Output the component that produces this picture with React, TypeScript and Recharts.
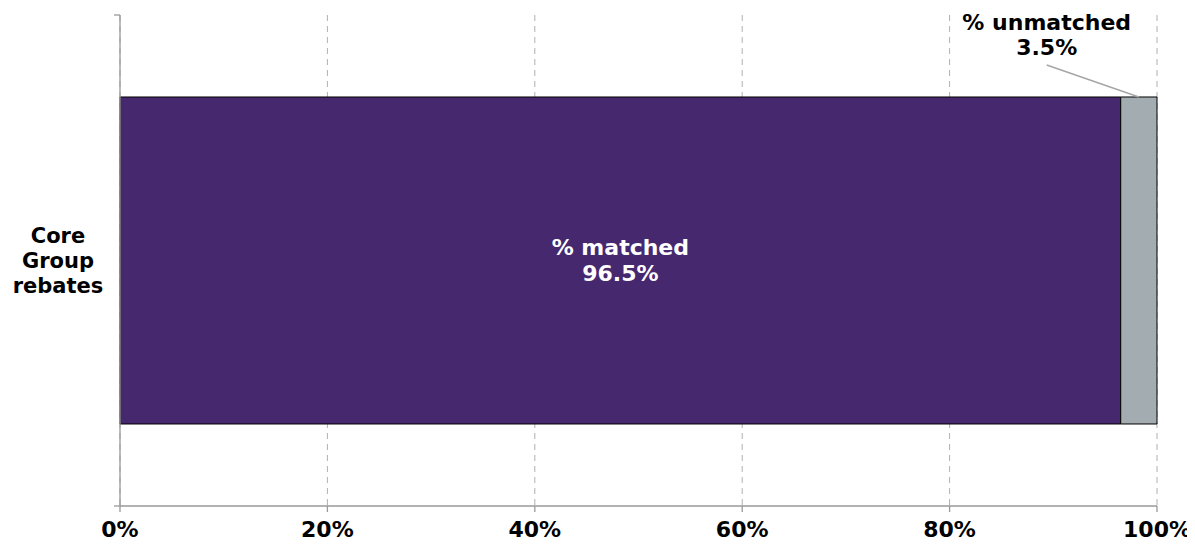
import { BarChart, Bar, XAxis, YAxis, CartesianGrid, LabelList, usePlotArea } from 'recharts';

const categories = ['Core Group rebates'];
const matched = [96.5];
const unmatched = [3.5];
const xTicks = [0, 20, 40, 60, 80, 100];

const data = categories.map((name, i) => ({ name, matched: matched[i], unmatched: unmatched[i] }));

const FONT = '"DejaVu Sans", Verdana, sans-serif';

function CategoryTick(props: any) {
  const { x, y, payload } = props;
  const words = String(payload.value).split(' ');
  const lineH = 25;
  const start = y - ((words.length - 1) * lineH) / 2;
  return (
    <text x={x - 54} textAnchor="middle" fontFamily={FONT} fontWeight="bold" fontSize={21} fill="#000">
      {words.map((w, i) => (
        <tspan key={i} x={x - 54} y={start + i * lineH} dy="0.35em">{w}</tspan>
      ))}
    </text>
  );
}

// Excel-style edge ticks on the category axis
function EdgeTicks() {
  const area = usePlotArea();
  if (!area) return null;
  const { x, y, height } = area;
  return (
    <g stroke="#999" strokeWidth={1.3}>
      <line x1={x - 6} y1={y} x2={x} y2={y} />
      <line x1={x - 6} y1={y + height} x2={x} y2={y + height} />
    </g>
  );
}

function MatchedLabel(props: any) {
  const { x, y, width, height, value } = props;
  const cx = x + width / 2;
  const cy = y + height / 2;
  return (
    <text textAnchor="middle" fontFamily={FONT} fontWeight="bold" fontSize={22} fill="#fff">
      <tspan x={cx} y={cy - 13} dy="0.35em">% matched</tspan>
      <tspan x={cx} y={cy + 13} dy="0.35em">{value}%</tspan>
    </text>
  );
}

function UnmatchedLabel(props: any) {
  const { x, y, width, value } = props;
  const tx = x - 74;
  return (
    <g>
      <line x1={tx} y1={y - 32} x2={x + width * 0.5} y2={y} stroke="#a6a6a6" strokeWidth={1.5} />
      <text textAnchor="middle" fontFamily={FONT} fontWeight="bold" fontSize={22} fill="#000">
        <tspan x={tx} y={y - 75} dy="0.35em">% unmatched</tspan>
        <tspan x={tx} y={y - 50} dy="0.35em">{value}%</tspan>
      </text>
    </g>
  );
}

export default function App() {
  return (
    <BarChart
      width={1187}
      height={536}
      data={data}
      layout="vertical"
      margin={{ top: 7, right: 38, bottom: 0, left: 0 }}
      barCategoryGap="16.7%"
    >
      <CartesianGrid horizontal={false} stroke="#b0b0b0" strokeDasharray="6 5" />
      <XAxis
        type="number"
        domain={[0, 100]}
        ticks={xTicks}
        tickFormatter={(v) => `${v}%`}
        height={38}
        axisLine={{ stroke: '#999', strokeWidth: 1.3 }}
        tickLine={{ stroke: '#999', strokeWidth: 1.3 }}
        tickSize={6}
        tick={{ fontFamily: FONT, fontWeight: 'bold', fontSize: 22, fill: '#000' }}
        tickMargin={9}
        interval={0}
      />
      <YAxis
        type="category"
        dataKey="name"
        width={112}
        axisLine={{ stroke: '#999', strokeWidth: 1.3 }}
        tickLine={false}
        tick={<CategoryTick />}
      />
      <EdgeTicks />
      <Bar dataKey="matched" stackId="a" fill="#46286f" stroke="#000" strokeWidth={1} isAnimationActive={false}>
        <LabelList dataKey="matched" content={<MatchedLabel />} />
      </Bar>
      <Bar dataKey="unmatched" stackId="a" fill="#a2acb1" stroke="#000" strokeWidth={1} isAnimationActive={false}>
        <LabelList dataKey="unmatched" content={<UnmatchedLabel />} />
      </Bar>
    </BarChart>
  );
}
